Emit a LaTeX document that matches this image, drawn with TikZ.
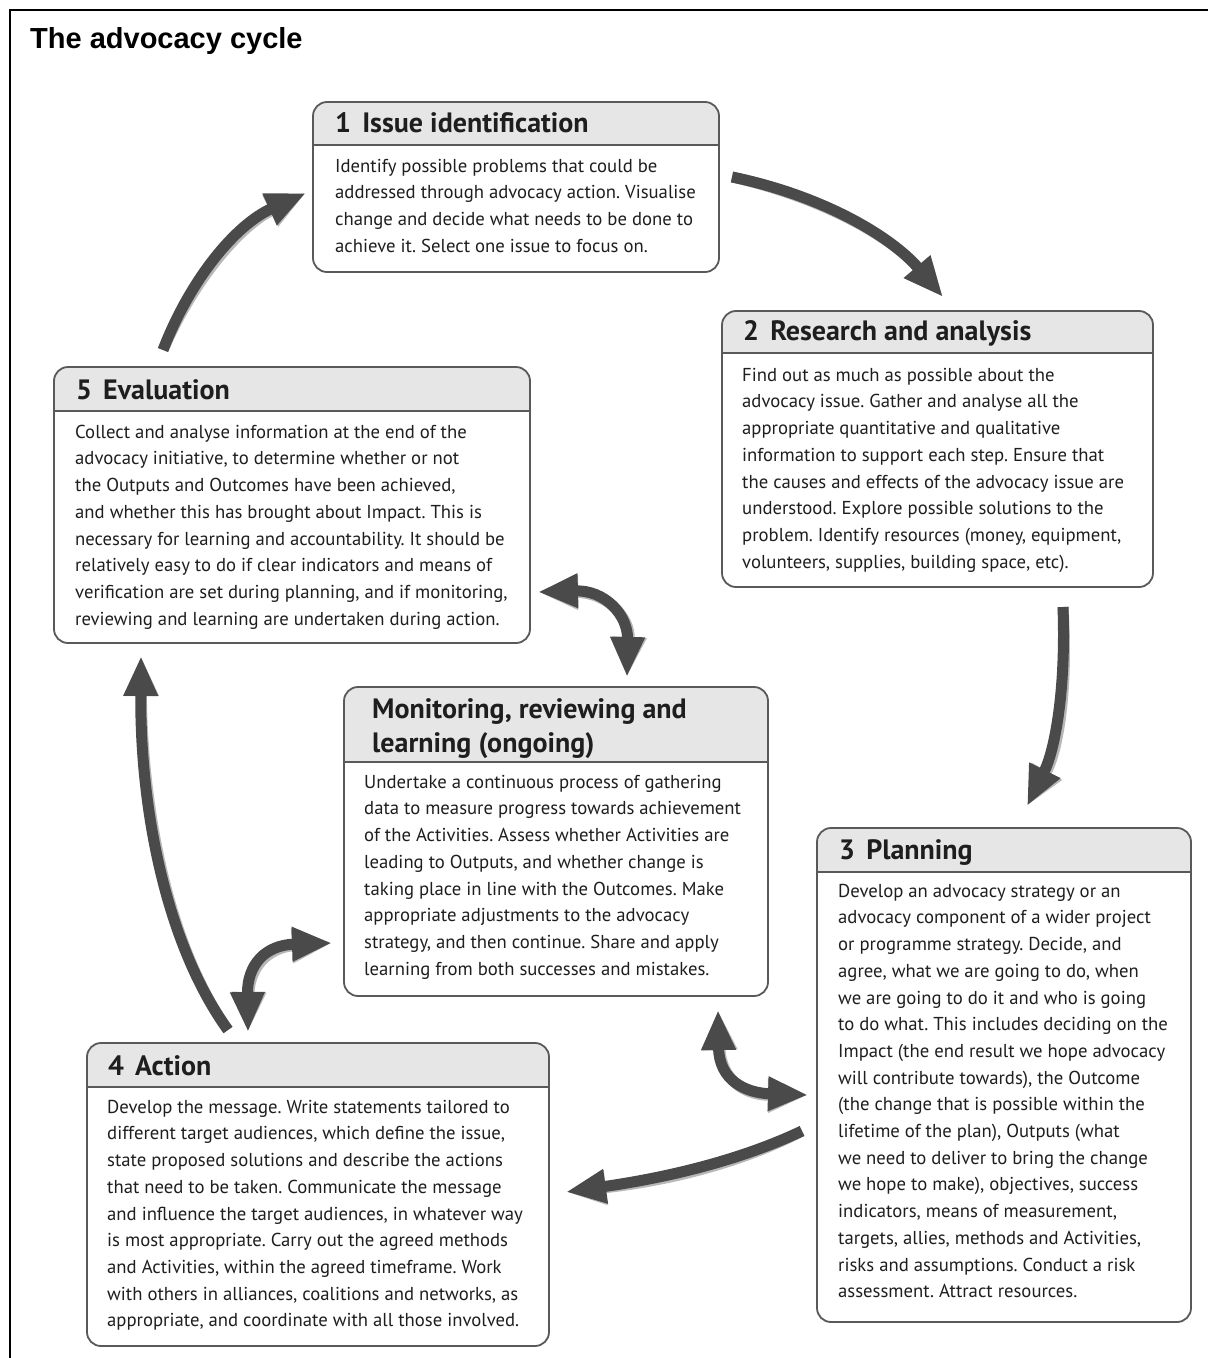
\documentclass[tikz,border=0pt]{standalone}
\usepackage{fontspec}
\setmainfont{PT Sans}
\newfontfamily\titlefont{Liberation Sans}
\usetikzlibrary{arrows.meta}
\definecolor{arrowgray}{HTML}{4A4A4A}
\definecolor{shadowgray}{HTML}{B8B8B8}
\definecolor{headgray}{HTML}{E6E6E6}
\definecolor{linegray}{HTML}{595959}
\definecolor{textcol}{HTML}{1E1E1E}
\frenchspacing
\tikzset{
  boxframe/.style={draw=linegray, line width=1.8pt, rounded corners=14pt, inner sep=0pt, outer sep=0pt, anchor=north west},
  sepline/.style={draw=linegray, line width=1.6pt},
  bodytext/.style={anchor=north west, inner sep=0pt, align=left, text=textcol, font=\fontsize{18.7}{26.7}\selectfont},
  headtext/.style={anchor=north west, inner sep=0pt, align=left, text=textcol, font=\fontsize{28}{34}\selectfont\bfseries},
  cyclearrow/.style={draw=arrowgray, line width=11pt, -{Triangle[length=40pt,width=32pt]}},
  cycleshadow/.style={draw=shadowgray, line width=11pt, -{Triangle[length=40pt,width=32pt]}, xshift=2.5pt, yshift=-2.5pt},
  twoarrow/.style={draw=arrowgray, line width=11pt, {Triangle[length=40pt,width=32pt]}-{Triangle[length=40pt,width=32pt]}},
  twoshadow/.style={draw=shadowgray, line width=11pt, {Triangle[length=40pt,width=32pt]}-{Triangle[length=40pt,width=32pt]}, xshift=2.5pt, yshift=-2.5pt}
}
% name, x1, y1, x2, y2, separator y
\newcommand\cyclebox[6]{%
  \begin{scope}
    \clip[rounded corners=14pt] (#2,#3) rectangle (#4,#5);
    \fill[headgray] (#2,#3) rectangle (#4,#6);
  \end{scope}
  \draw[sepline] (#2,#6) -- (#4,#6);
  \node[boxframe, minimum width={(#4-#2)*1pt}, minimum height={(#5-#3)*1pt}] (#1) at (#2,#3) {};
}
\begin{document}
\begin{tikzpicture}[x=1pt, y=-1pt]
\useasboundingbox (0,0) rectangle (1208,1358);
\clip (0,0) rectangle (1208,1358);
\fill[white] (0,0) rectangle (1208,1358);
% outer frame (cut at right and bottom)
\draw[line width=2pt, black] (9.5,1380) -- (9.5,9.5) -- (1230,9.5);
\node[anchor=base west, inner sep=0pt, font=\titlefont\fontsize{29}{34}\selectfont\bfseries] (title) at (30,48) {The advocacy cycle};

% boxes
\cyclebox{b1}{313}{102}{719}{272}{145}
\cyclebox{b2}{722}{311}{1153}{587}{353}
\cyclebox{b5}{54}{367}{530}{643}{411}
\cyclebox{bm}{344}{687}{768}{996}{762}
\cyclebox{b3}{817}{828}{1191}{1322}{872}
\cyclebox{b4}{87}{1043}{549}{1346}{1087}

% headers (top = baseline - 23.8)
\node[headtext] (h1) at (335,132-23.8) {\strut 1\hspace{0.4em}Issue identification};
\node[headtext] (h2) at (743,340-23.8) {\strut 2\hspace{0.4em}Research and analysis};
\node[headtext] (h5) at (76,399-23.8) {\strut 5\hspace{0.4em}Evaluation};
\node[headtext] (hm) at (372,718-23.8) {\strut Monitoring, reviewing and\\learning (ongoing)};
\node[headtext] (h3) at (839,859-23.8) {\strut 3\hspace{0.4em}Planning};
\node[headtext] (h4) at (108,1075-23.8) {\strut 4\hspace{0.4em}Action};

% bodies (top = baseline - 18.69)
\node[bodytext] (t1) at (335,172-18.69) {\strut Identify possible problems that could be\\
addressed through advocacy action. Visualise\\
change and decide what needs to be done to\\
achieve it. Select one issue to focus on.};
\node[bodytext] (t2) at (742,381-18.69) {\strut Find out as much as possible about the\\
advocacy issue. Gather and analyse all the\\
appropriate quantitative and qualitative\\
information to support each step. Ensure that\\
the causes and effects of the advocacy issue are\\
understood. Explore possible solutions to the\\
problem. Identify resources (money, equipment,\\
volunteers, supplies, building space, etc).};
\node[bodytext] (t5) at (75,438-18.69) {\strut Collect and analyse information at the end of the\\
advocacy initiative, to determine whether or not\\
the Outputs and Outcomes have been achieved,\\
and whether this has brought about Impact. This is\\
necessary for learning and accountability. It should be\\
relatively easy to do if clear indicators and means of\\
verification are set during planning, and if monitoring,\\
reviewing and learning are undertaken during action.};
\node[bodytext] (tm) at (364,788-18.69) {\strut Undertake a continuous process of gathering\\
data to measure progress towards achievement\\
of the Activities. Assess whether Activities are\\
leading to Outputs, and whether change is\\
taking place in line with the Outcomes. Make\\
appropriate adjustments to the advocacy\\
strategy, and then continue. Share and apply\\
learning from both successes and mistakes.};
\node[bodytext] (t3) at (838,897-18.69) {\strut Develop an advocacy strategy or an\\
advocacy component of a wider project\\
or programme strategy. Decide, and\\
agree, what we are going to do, when\\
we are going to do it and who is going\\
to do what. This includes deciding on the\\
Impact (the end result we hope advocacy\\
will contribute towards), the Outcome\\
(the change that is possible within the\\
lifetime of the plan), Outputs (what\\
we need to deliver to bring the change\\
we hope to make), objectives, success\\
indicators, means of measurement,\\
targets, allies, methods and Activities,\\
risks and assumptions. Conduct a risk\\
assessment. Attract resources.};
\node[bodytext] (t4) at (107,1113-18.69) {\strut Develop the message. Write statements tailored to\\
different target audiences, which define the issue,\\
state proposed solutions and describe the actions\\
that need to be taken. Communicate the message\\
and influence the target audiences, in whatever way\\
is most appropriate. Carry out the agreed methods\\
and Activities, within the agreed timeframe. Work\\
with others in alliances, coalitions and networks, as\\
appropriate, and coordinate with all those involved.};

% arrow end points
\coordinate (a1s) at (163,350);  \coordinate (a1e) at (306,193);
\coordinate (a2s) at (732,177);  \coordinate (a2e) at (943,297);
\coordinate (a3s) at (1063,607); \coordinate (a3e) at (1027,806);
\coordinate (a4s) at (802,1131); \coordinate (a4e) at (566,1192);
\coordinate (a5s) at (228,1030); \coordinate (a5e) at (141,656);
\coordinate (d1s) at (538,592);  \coordinate (d1e) at (627,677);
\coordinate (d2s) at (332,943);  \coordinate (d2e) at (248,1032);
\coordinate (d3s) at (718,1010); \coordinate (d3e) at (808,1095);

% shadows
\draw[cycleshadow] (a1s) .. controls (190,280) and (235,225) .. (a1e);
\draw[cycleshadow] (a2s) .. controls (820,195) and (890,235) .. (a2e);
\draw[cycleshadow] (a3s) .. controls (1066,690) and (1055,750) .. (a3e);
\draw[cycleshadow] (a4s) .. controls (730,1165) and (650,1180) .. (a4e);
\draw[cycleshadow] (a5s) .. controls (170,950) and (140,820) .. (a5e);
\draw[twoshadow] (d1s) .. controls (605,590) and (628,615) .. (d1e);
\draw[twoshadow] (d2s) .. controls (265,945) and (247,965) .. (d2e);
\draw[twoshadow] (d3s) .. controls (719,1080) and (745,1093) .. (d3e);
% arrows
\draw[cyclearrow] (a1s) .. controls (190,280) and (235,225) .. (a1e);
\draw[cyclearrow] (a2s) .. controls (820,195) and (890,235) .. (a2e);
\draw[cyclearrow] (a3s) .. controls (1066,690) and (1055,750) .. (a3e);
\draw[cyclearrow] (a4s) .. controls (730,1165) and (650,1180) .. (a4e);
\draw[cyclearrow] (a5s) .. controls (170,950) and (140,820) .. (a5e);
\draw[twoarrow] (d1s) .. controls (605,590) and (628,615) .. (d1e);
\draw[twoarrow] (d2s) .. controls (265,945) and (247,965) .. (d2e);
\draw[twoarrow] (d3s) .. controls (719,1080) and (745,1093) .. (d3e);
\end{tikzpicture}
\end{document}
